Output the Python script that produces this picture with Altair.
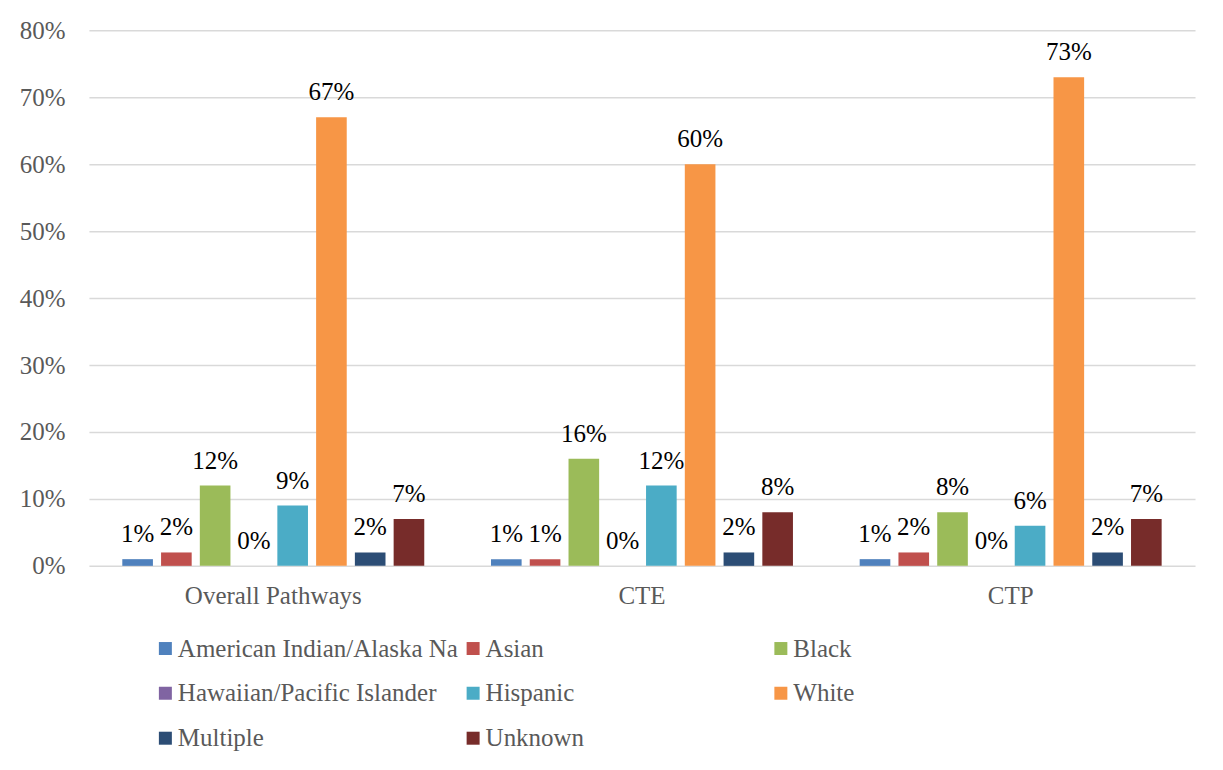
import altair as alt
import pandas as pd

groups = ["Overall Pathways", "CTE", "CTP"]
series = ["American Indian/Alaska Native", "Asian", "Black", "Hawaiian/Pacific Islander",
          "Hispanic", "White", "Multiple", "Unknown"]
colors = ["#4F81BD", "#C0504D", "#9BBB59", "#8064A2", "#4BACC6", "#F79646", "#2C4D75", "#772C2A"]
overall = [1, 2, 12, 0, 9, 67, 2, 7]
cte = [1, 1, 16, 0, 12, 60, 2, 8]
ctp = [1, 2, 8, 0, 6, 73, 2, 7]
y_ticks = [0, 0.1, 0.2, 0.3, 0.4, 0.5, 0.6, 0.7, 0.8]

rows = []
for g, vals in zip(groups, [overall, cte, ctp]):
    for s, v in zip(series, vals):
        rows.append({"group": g, "series": s, "value": v / 100})
df = pd.DataFrame(rows)

FONT = "Liberation Serif"

x = alt.X("group:N", sort=groups, title=None,
          scale=alt.Scale(paddingInner=0.181, paddingOuter=0.0905),
          axis=alt.Axis(labelAngle=0, domain=False, ticks=False, labelPadding=18,
                        labelColor="#595959", labelFontSize=25, labelFont=FONT))
xo = alt.XOffset("series:N", sort=series,
                 scale=alt.Scale(paddingInner=0.21, paddingOuter=0))
y = alt.Y("value:Q", title=None,
          scale=alt.Scale(domain=[0, 0.8], nice=False),
          axis=alt.Axis(values=y_ticks, format=".0%", domain=False, ticks=False,
                        labelPadding=24, labelColor="#595959", labelFontSize=25,
                        labelFont=FONT, gridColor="#D9D9D9", gridWidth=1.5))

bars = alt.Chart(df).mark_bar().encode(
    x=x, xOffset=xo, y=y,
    color=alt.Color("series:N", sort=series,
                    scale=alt.Scale(domain=series, range=colors),
                    legend=alt.Legend(
                        title=None, orient="none", legendX=64, legendY=606,
                        direction="horizontal", columns=3, gridAlign="all",
                        columnPadding=2, rowPadding=19, padding=0,
                        symbolType="square", symbolSize=169, symbolStrokeWidth=0,
                        labelOffset=0, labelLimit=400,
                        labelExpr="substring(datum.label, 0, 25)",
                        labelFont=FONT, labelFontSize=25, labelColor="#595959")),
)

labels = alt.Chart(df).mark_text(
    dy=-17, baseline="alphabetic", align="center", font=FONT, fontSize=25, color="#000000"
).encode(
    x=x, xOffset=xo, y=y,
    text=alt.Text("value:Q", format=".0%"),
)

chart = (bars + labels).properties(
    width=1107, height=536,
    background="white",
    autosize=alt.AutoSizeParams(type="none"),
    padding={"left": 81, "top": 22, "right": 20, "bottom": 200},
).configure_view(stroke=None)

chart.save("out.html", embed_options={"renderer": "svg", "actions": False})
